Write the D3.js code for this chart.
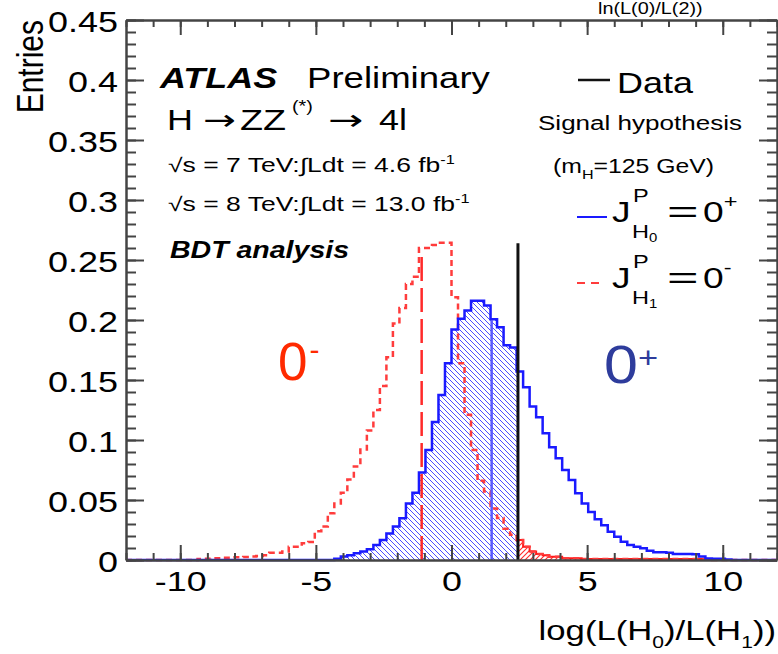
<!DOCTYPE html>
<html>
<head>
<meta charset="utf-8">
<script src="https://cdn.jsdelivr.net/npm/d3@7"></script>
<style>
body { margin: 0; background: #fff; }
svg text { font-family: "Liberation Sans", Arial, Helvetica, sans-serif; }
</style>
</head>
<body>
<svg id="chart" width="778" height="654"></svg>
<script>
// binning of both pseudo-experiment histograms
var binWidth = 0.24;
var xDomain = [-12, 12];
var yDomain = [0, 0.45];

// J^P = 0+ (blue, solid)
var blueStart = -4.32;
var blueValues = [0.001, 0.003, 0.004, 0.0056, 0.007, 0.009, 0.0125, 0.0167, 0.022, 0.028,
  0.0347, 0.047, 0.056, 0.073, 0.0917, 0.115, 0.1375, 0.164, 0.192, 0.201,
  0.208, 0.216, 0.216, 0.212, 0.2006, 0.194, 0.179, 0.177, 0.157, 0.144,
  0.128, 0.119, 0.1056, 0.094, 0.0847, 0.075, 0.0667, 0.0556, 0.047, 0.040,
  0.034, 0.029, 0.0236, 0.0194, 0.0153, 0.0125, 0.011, 0.0097, 0.0078, 0.0065,
  0.0064, 0.006, 0.005, 0.005, 0.005, 0.0048, 0.003, 0.0012, 0.001, 0.001, 0.0005];

// J^P = 0- (red, dotted)
var redStart = -9.36;
var redValues = [0.0008, 0.001, 0.0014, 0.0014, 0.0018, 0.0022, 0.0022, 0.0026, 0.003, 0.0033,
  0.004, 0.006, 0.006, 0.007, 0.011, 0.011, 0.014, 0.015, 0.024, 0.028,
  0.039, 0.047, 0.056, 0.067, 0.078, 0.092, 0.108, 0.125, 0.145, 0.169,
  0.197, 0.21, 0.23, 0.236, 0.26, 0.26, 0.2625, 0.2644, 0.2644, 0.219,
  0.164, 0.121, 0.0917, 0.066, 0.057, 0.043, 0.035, 0.026, 0.021, 0.0167,
  0.011, 0.007, 0.005, 0.004, 0.0028, 0.0028, 0.0014, 0.0014, 0.0014, 0.0008,
  0.0008, 0.0008, 0.0008, 0.0008, 0.0008, 0.0008, 0.0008, 0.0008, 0.0008, 0.0008,
  0.0008, 0.0008, 0.0008, 0.0008, 0.0008, 0.0008, 0.0008, 0.0008, 0.0008];

var dataObs = 2.45, dataTop = 0.264;
var medianMinus = -1.1, medianMinusTop = 0.254;
var medianPlus = 1.48, medianPlusTop = 0.2;

var xMajor = [-10, -5, 0, 5, 10];
var xMinor = d3.range(-12, 13, 1);
var yMajor = [0, 0.05, 0.1, 0.15, 0.2, 0.25, 0.3, 0.35, 0.4, 0.45];
var yLabels = ['0', '0.05', '0.1', '0.15', '0.2', '0.25', '0.3', '0.35', '0.4', '0.45'];
var yMinor = d3.range(0, 46).map(function(i) { return i / 100; });

var L = 126, R = 777, T = 20, B = 560, SX = 1.24;
var svg = d3.select('#chart');
var x = d3.scaleLinear().domain(xDomain).range([L, R]);
var y = d3.scaleLinear().domain(yDomain).range([B, T]);

function histPoints(start, vals) {
  var n = Math.round((xDomain[1] - xDomain[0]) / binWidth);
  var pts = d3.range(n).map(function(i) {
    var e = xDomain[0] + i * binWidth;
    var j = Math.round((e - start) / binWidth);
    return [e, (j >= 0 && j < vals.length) ? vals[j] : 0];
  });
  pts.push([xDomain[1], pts[pts.length - 1][1]]);
  return pts;
}
var bluePts = histPoints(blueStart, blueValues);
var redPts = histPoints(redStart, redValues);

var line = d3.line().x(function(d) { return x(d[0]); }).y(function(d) { return y(d[1]); }).curve(d3.curveStepAfter);
var area = d3.area().x(function(d) { return x(d[0]); }).y0(y(0)).y1(function(d) { return y(d[1]); }).curve(d3.curveStepAfter);

var defs = svg.append('defs');
defs.append('pattern').attr('id', 'hatchBlue').attr('patternUnits', 'userSpaceOnUse').attr('width', 5).attr('height', 5)
  .append('path').attr('d', 'M0,0L5,5M-1,4L1,6M4,-1L6,1').attr('stroke', '#4d4dff').attr('stroke-width', 1);
defs.append('pattern').attr('id', 'hatchRed').attr('patternUnits', 'userSpaceOnUse').attr('width', 5).attr('height', 5)
  .append('path').attr('d', 'M0,5L5,0M-1,1L1,-1M4,6L6,4').attr('stroke', '#ff2a2a').attr('stroke-width', 1.1);
defs.append('clipPath').attr('id', 'clipLeft').append('rect')
  .attr('x', L).attr('y', T).attr('width', x(dataObs) - L).attr('height', B - T);
defs.append('clipPath').attr('id', 'clipRight').append('rect')
  .attr('x', x(dataObs)).attr('y', T).attr('width', R - x(dataObs)).attr('height', B - T);

svg.append('rect').attr('width', 778).attr('height', 654).attr('fill', '#fff').lower();

// hatched p-value regions
svg.append('path').datum(bluePts).attr('d', area).attr('fill', 'url(#hatchBlue)').attr('clip-path', 'url(#clipLeft)');
svg.append('path').datum(redPts).attr('d', area).attr('fill', 'url(#hatchRed)').attr('clip-path', 'url(#clipRight)');
svg.append('path').datum(redPts).attr('d', line).attr('fill', 'none').attr('stroke', '#ff1a1a')
  .attr('stroke-width', 2).attr('clip-path', 'url(#clipRight)');

// histograms
svg.append('path').datum(redPts).attr('d', line).attr('fill', 'none').attr('stroke', '#ff3c3c')
  .attr('stroke-width', 2.5).attr('stroke-dasharray', '6,4');
svg.append('path').datum(bluePts).attr('d', line).attr('fill', 'none').attr('stroke', '#1a1aff').attr('stroke-width', 2.5);

// medians and observed value
svg.append('line').attr('x1', x(medianMinus)).attr('x2', x(medianMinus)).attr('y1', y(0)).attr('y2', y(medianMinusTop))
  .attr('stroke', '#ff2a2a').attr('stroke-width', 2.5).attr('stroke-dasharray', '24,7');
svg.append('line').attr('x1', x(medianPlus)).attr('x2', x(medianPlus)).attr('y1', y(0)).attr('y2', y(medianPlusTop))
  .attr('stroke', '#5a5aff').attr('stroke-width', 2.5);
svg.append('line').attr('x1', x(dataObs)).attr('x2', x(dataObs)).attr('y1', y(0)).attr('y2', y(dataTop))
  .attr('stroke', '#111').attr('stroke-width', 3);

// axes, ticks pointing inwards
function styleAxis(g, keepDomain) {
  g.attr('font-family', null).attr('font-size', null);
  g.selectAll('.tick line').attr('stroke', '#444').attr('stroke-width', 2);
  if (keepDomain) g.select('.domain').attr('stroke', '#444').attr('stroke-width', 2.5);
  else g.select('.domain').remove();
}
var gx = svg.append('g').attr('transform', 'translate(0,' + B + ')')
  .call(d3.axisBottom(x).tickValues(xMajor).tickSize(-15).tickSizeOuter(0).tickFormat(function(d) { return String(d); }));
styleAxis(gx, true);
gx.selectAll('text').attr('y', 0).attr('dy', null).attr('fill', '#000').attr('font-size', 28)
  .attr('transform', 'translate(0,31) scale(1.28,1)');
svg.append('g').attr('transform', 'translate(0,' + B + ')')
  .call(d3.axisBottom(x).tickValues(xMinor).tickSize(-7).tickFormat('')).call(styleAxis, false);
svg.append('g').attr('transform', 'translate(0,' + T + ')')
  .call(d3.axisTop(x).tickValues(xMajor).tickSize(-15).tickSizeOuter(0).tickFormat('')).call(styleAxis, true);
svg.append('g').attr('transform', 'translate(0,' + T + ')')
  .call(d3.axisTop(x).tickValues(xMinor).tickSize(-7).tickFormat('')).call(styleAxis, false);

var gy = svg.append('g').attr('transform', 'translate(' + L + ',0)')
  .call(d3.axisLeft(y).tickValues(yMajor).tickSize(-18).tickSizeOuter(0).tickFormat(function(d, i) { return yLabels[i]; }));
styleAxis(gy, true);
gy.selectAll('text').attr('x', 0).attr('dy', null).attr('fill', '#000').attr('font-size', 29)
  .attr('text-anchor', 'end').attr('transform', 'translate(-8,11.5) scale(' + SX + ',1)');
svg.append('g').attr('transform', 'translate(' + L + ',0)')
  .call(d3.axisLeft(y).tickValues(yMinor).tickSize(-10).tickFormat('')).call(styleAxis, false);
svg.append('g').attr('transform', 'translate(' + R + ',0)')
  .call(d3.axisRight(y).tickValues(yMajor).tickSize(-18).tickSizeOuter(0).tickFormat('')).call(styleAxis, true);
svg.append('g').attr('transform', 'translate(' + R + ',0)')
  .call(d3.axisRight(y).tickValues(yMinor).tickSize(-10).tickFormat('')).call(styleAxis, false);

// text helper: the picture is stretched horizontally, so text gets scaleX
function txt(px, py, size, sx) {
  return svg.append('text').attr('transform', 'translate(' + px + ',' + py + ') scale(' + (sx || SX) + ',1)')
    .attr('font-size', size).attr('fill', '#000');
}

svg.append('text').attr('transform', 'translate(43,20) scale(' + SX + ',1) rotate(-90)')
  .attr('text-anchor', 'end').attr('font-size', 30).text('Entries');

var xt = txt(776, 640, 28).attr('text-anchor', 'end');
xt.append('tspan').text('log(L(H');
xt.append('tspan').attr('font-size', 17).attr('dy', 8).text('0');
xt.append('tspan').attr('dy', -8).text(')/L(H');
xt.append('tspan').attr('font-size', 17).attr('dy', 8).text('1');
xt.append('tspan').attr('dy', -8).text('))');

txt(598, 14, 16).text('ln(L(0)/L(2))');

txt(160, 88, 29).attr('font-weight', 'bold').attr('font-style', 'italic').text('ATLAS');
txt(307, 88, 29.5).text('Preliminary');
// H -> ZZ(*) -> 4l, each piece placed on its own
txt(167, 130, 29).text('H');
txt(203, 130, 29, 1.35).style('font-family', '"DejaVu Sans"').text('\u2192');
txt(240, 130, 29, 1.3).text('ZZ');
txt(292, 112, 16).text('(*)');
txt(328, 130, 29, 1.45).style('font-family', '"DejaVu Sans"').text('\u2192');
txt(379, 130, 29).text('4l');
var s7 = txt(168, 172, 19.5, 1.36);
s7.append('tspan').text('\u221As = 7 TeV:\u222BLdt = 4.6 fb');
s7.append('tspan').attr('font-size', 12).attr('dy', -8).text('-1');
var s8 = txt(168, 211, 19.5, 1.36);
s8.append('tspan').text('\u221As = 8 TeV:\u222BLdt = 13.0 fb');
s8.append('tspan').attr('font-size', 12).attr('dy', -8).text('-1');
txt(170, 258, 23).attr('font-weight', 'bold').attr('font-style', 'italic').text('BDT analysis');

// legend
svg.append('line').attr('x1', 578).attr('x2', 610).attr('y1', 80).attr('y2', 80).attr('stroke', '#111').attr('stroke-width', 2.5);
txt(617, 93, 29).text('Data');
txt(538, 130, 21).text('Signal hypothesis');
var mh = txt(553, 173, 20);
mh.append('tspan').text('(m');
mh.append('tspan').attr('font-size', 13).attr('dy', 6).text('H');
mh.append('tspan').attr('dy', -6).text('=125 GeV)');

var legendRows = [
  { y: 222, sub: '0', sign: '+', color: '#1a1aff', dash: null },
  { y: 288, sub: '1', sign: '-', color: '#ff3c3c', dash: '8,6' }
];
legendRows.forEach(function(r) {
  svg.append('line').attr('x1', 577).attr('x2', r.dash ? 601 : 607).attr('y1', r.y - 5).attr('y2', r.y - 5)
    .attr('stroke', r.color).attr('stroke-width', 2).attr('stroke-dasharray', r.dash);
  var j = txt(612, r.y, 30);
  j.append('tspan').text('J');
  j.append('tspan').attr('font-size', 19).attr('dy', -20).attr('dx', 2).text('P');
  var h = txt(632, r.y + 16, 19);
  h.append('tspan').text('H');
  h.append('tspan').attr('font-size', 12).attr('dy', 4).text(r.sub);
  txt(667, r.y, 30, 1.8).text('=');
  var z = txt(703, r.y, 30);
  z.append('tspan').text('0');
  z.append('tspan').attr('font-size', 19).attr('dy', -14).text(r.sign);
});

// big hypothesis labels
var lm = svg.append('text').attr('x', 278).attr('y', 380).attr('font-size', 53).attr('fill', '#ff2a00');
lm.append('tspan').text('0');
lm.append('tspan').attr('font-size', 30).attr('dy', -20).attr('dx', 2).text('-');
var lp = svg.append('text').attr('transform', 'translate(604,383) scale(1.15,1)').attr('font-size', 53).attr('fill', '#2e3c9c');
lp.append('tspan').text('0');
lp.append('tspan').attr('font-size', 30).attr('dy', -15).text('+');
</script>
</body>
</html>
